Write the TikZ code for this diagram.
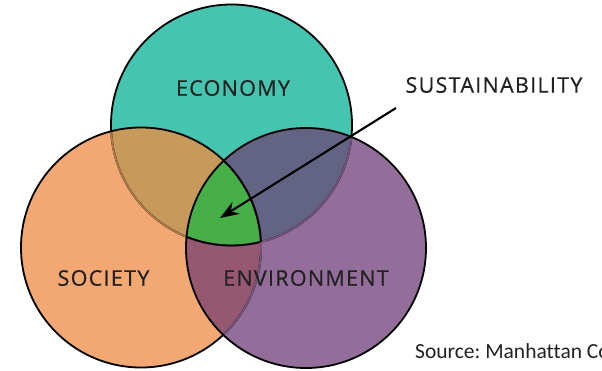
\documentclass[tikz,border=0pt]{standalone}
\usepackage{fontspec}
\usetikzlibrary{arrows.meta}
\newfontfamily\labfont[LetterSpace=6,FakeBold=0.6]{Open Sans}
\newfontfamily\srcfont[Ligatures=NoCommon]{Carlito}
\definecolor{ecoC}{HTML}{45C4B0}
\definecolor{socC}{HTML}{F3A874}
\definecolor{envC}{HTML}{946E9A}
\definecolor{esC}{HTML}{C79A5C}
\definecolor{evC}{HTML}{636384}
\definecolor{svC}{HTML}{955870}
\definecolor{allC}{HTML}{47AF48}
\definecolor{txtC}{HTML}{222222}
\definecolor{faintS}{HTML}{A97A4C}
\definecolor{faintV}{HTML}{74547C}
\tikzset{
  outline/.style={line width=1.8pt},
  lab/.style={font=\labfont\fontsize{21.5}{24}\selectfont, text=txtC, inner sep=0pt},
  src/.style={font=\srcfont\fontsize{21.5}{24}\selectfont\frenchspacing, text=txtC, inner sep=0pt},
  pointer/.style={line width=2.1pt, -{Stealth[length=19pt,width=14pt]}}
}
\def\eco{(231.5,125) circle (120.5pt)}
\def\soc{(141,247.5) circle (120pt)}
\def\env{(306,248) circle (120pt)}
\begin{document}
\begin{tikzpicture}[x=1pt,y=-1pt]
\useasboundingbox[fill=white] (0,0) rectangle (602,371);
% fills
\fill[ecoC] \eco;
\fill[socC] \soc;
\fill[envC] \env;
\begin{scope}\clip \eco; \fill[esC] \soc; \end{scope}
\begin{scope}\clip \eco; \fill[evC] \env; \end{scope}
\begin{scope}\clip \soc; \fill[svC] \env; \end{scope}
\begin{scope}\clip \eco; \clip \soc; \fill[allC] \env; \end{scope}
% economy outline
\draw[outline] \eco;
\begin{scope}\clip \soc; \draw[outline, faintS] \eco; \end{scope}
\begin{scope}\clip \env; \draw[outline, faintV] \eco; \end{scope}
\begin{scope}\clip \soc; \clip \env; \draw[outline] \eco; \end{scope}
% society outline
\draw[outline] \soc;
\begin{scope}\clip \env; \draw[outline, faintV] \soc; \end{scope}
\begin{scope}\clip \env; \clip \eco; \draw[outline] \soc; \end{scope}
% environment outline
\draw[outline] \env;
% labels
\node[lab] (economy) at (233,88) {ECONOMY};
\node[lab] (society) at (103.5,278) {SOCIETY};
\node[lab] (environment) at (306,278) {ENVIRONMENT};
\node[lab] (sust) at (494,85) {SUSTAINABILITY};
\node[src, anchor=base west] (source) at (415,358) {Source: Manhattan Co};
% arrow
\coordinate (arrStart) at (396,108);
\coordinate (arrTip) at (220,218);
\draw[pointer] (arrStart) -- (arrTip);
\end{tikzpicture}
\end{document}
